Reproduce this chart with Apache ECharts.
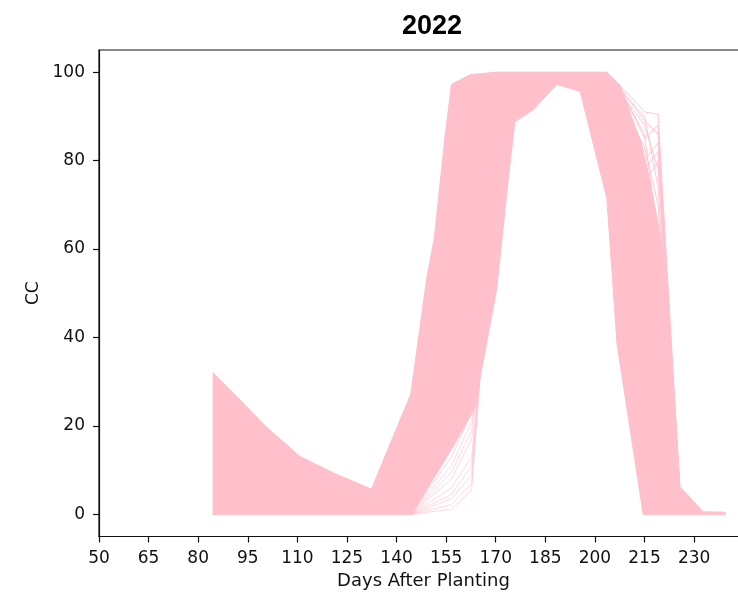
<!DOCTYPE html>
<html>
<head>
<meta charset="utf-8">
<script src="https://cdn.jsdelivr.net/npm/echarts@6/dist/echarts.min.js"></script>
<style>
html,body{margin:0;padding:0;background:#fff;}
#chart{width:738px;height:593px;}
</style>
</head>
<body>
<div id="chart"></div>
<script>
// Tick labels
const xTicks = [50, 65, 80, 95, 110, 125, 140, 155, 170, 185, 200, 215, 230];
const yTicks = [0, 20, 40, 60, 80, 100];

// Dense band of simulated CC curves: outer envelope (left to right)
const outerDays = [84.5, 84.5, 90.5, 100.7, 110.8, 120.8, 132.4, 144.3, 149.1, 151.4, 154.6, 156.6, 162.2, 170.3, 203.5, 207.6, 211, 214, 216.5, 218.5, 220.5, 221.8, 225.7, 232.7, 239.4, 239.4];
const outerCC   = [0, 32, 27.5, 19.7, 13.1, 9.4, 5.7, 27.2, 53.3, 62.4, 85, 97.2, 99.4, 100, 100, 97, 90, 84, 76, 68, 60, 51, 6.3, 0.6, 0.5, 0];
// inner envelope (right to left)
const innerDays = [214.6, 206.7, 203.6, 195.5, 188.4, 181.3, 175.8, 173.8, 170.3, 165.2, 164, 156.6, 144.5];
const innerCC   = [0, 38.5, 71.5, 95.7, 97.2, 91.5, 88.8, 76, 51, 30.6, 24.5, 14.7, 0];

// Individual sparse curves at the lower edge of the rising limb
const fanDays = [144.5, 156.6, 162.7, 165.2];
const fan1 = [0, 1.2, 5.6, 30.6];
const fan2 = [0, 2.2, 7, 30.6];
const fan3 = [0, 3.5, 9, 31];
const fan4 = [0, 4.5, 11, 31.5];
const fan5 = [0, 6, 13, 32];
const fan6 = [0, 8, 17, 33];
const fan7 = [0, 9.5, 19, 33.5];
const fan8 = [0, 11, 21, 34];
const fan9 = [0, 13, 23, 35];

// Individual sparse curves at the late-season edge
const tailDays = [203.5, 207.6, 215, 219.1, 225.7];
const tail1 = [100, 97, 91, 90.5, 6];
const tail2 = [100, 96.5, 85, 88, 5];
const tail3 = [100, 96, 80, 84, 5];
const tail4 = [100, 95.5, 88, 78, 4];
const tail5 = [100, 95, 75, 80, 4];
const tail6 = [100, 94, 83, 70, 3];
const tail7 = [100, 96, 90, 74, 4];
const tail8 = [100, 95, 70, 65, 3];
const tail9 = [100, 96, 86, 62, 3];
const tail10 = [100, 96.5, 89, 86, 5];
const tail11 = [100, 95.5, 78, 82, 5];

const PINK = '#FFC0CB';
const pair = (d, v) => d.map((x, i) => [x, v[i]]);

const lineSeries = (days, vals, op) => ({
  type: 'line', data: pair(days, vals), showSymbol: false, silent: true,
  lineStyle: { color: PINK, width: 1, opacity: op }, z: 3
});

const chart = echarts.init(document.getElementById('chart'), null, { renderer: 'canvas' });
const axisColor = '#111';
const font = 'DejaVu Sans';

const fans = [fan1, fan2, fan3, fan4, fan5, fan6, fan7, fan8, fan9];
const tails = [tail1, tail2, tail3, tail4, tail5, tail6, tail7, tail8, tail9, tail10, tail11];

chart.setOption({
  animation: false,
  backgroundColor: '#fff',
  title: {
    text: '2022', left: 427, top: 8, textAlign: 'center',
    textStyle: { fontFamily: 'Liberation Sans', fontWeight: 'bold', fontSize: 27, color: '#000' }
  },
  grid: { left: 99, width: 649, top: 50, height: 486.5, outerBoundsMode: 'none', containLabel: false,
          show: true, borderColor: axisColor, borderWidth: 1.2, backgroundColor: 'transparent' },
  xAxis: {
    type: 'value', min: 50, max: 246.3,
    name: 'Days After Planting', nameLocation: 'middle', nameGap: 34.5,
    nameTextStyle: { fontFamily: font, fontSize: 18, color: axisColor },
    axisLine: { show: true, onZero: false, lineStyle: { color: axisColor, width: 1.2 } },
    axisTick: { show: true, length: 6, lineStyle: { color: axisColor, width: 1.2 }, customValues: xTicks },
    axisLabel: { fontFamily: font, fontSize: 17, color: axisColor, margin: 14, customValues: xTicks },
    splitLine: { show: false }
  },
  yAxis: {
    type: 'value', min: -5, max: 105,
    name: 'CC', nameLocation: 'middle', nameGap: 57,
    nameTextStyle: { fontFamily: font, fontSize: 17, color: axisColor },
    axisLine: { show: true, onZero: false, lineStyle: { color: axisColor, width: 1.2 } },
    axisTick: { show: true, length: 6, lineStyle: { color: axisColor, width: 1.2 }, customValues: yTicks },
    axisLabel: { fontFamily: font, fontSize: 17, color: axisColor, margin: 14, customValues: yTicks },
    splitLine: { show: false }
  },
  series: [
    {
      type: 'custom', coordinateSystem: 'cartesian2d', silent: true, z: 2,
      data: [[outerDays[0], outerCC[0]]],
      renderItem: (params, api) => {
        const pts = [];
        for (let i = 0; i < outerDays.length; i++) pts.push(api.coord([outerDays[i], outerCC[i]]));
        for (let i = 0; i < innerDays.length; i++) pts.push(api.coord([innerDays[i], innerCC[i]]));
        return { type: 'polygon', shape: { points: pts }, style: { fill: PINK, stroke: PINK, lineWidth: 1 } };
      }
    }
  ].concat(fans.map(f => lineSeries(fanDays, f, 0.6)))
   .concat(tails.map(t => lineSeries(tailDays, t, 0.85)))
});
</script>
</body>
</html>
